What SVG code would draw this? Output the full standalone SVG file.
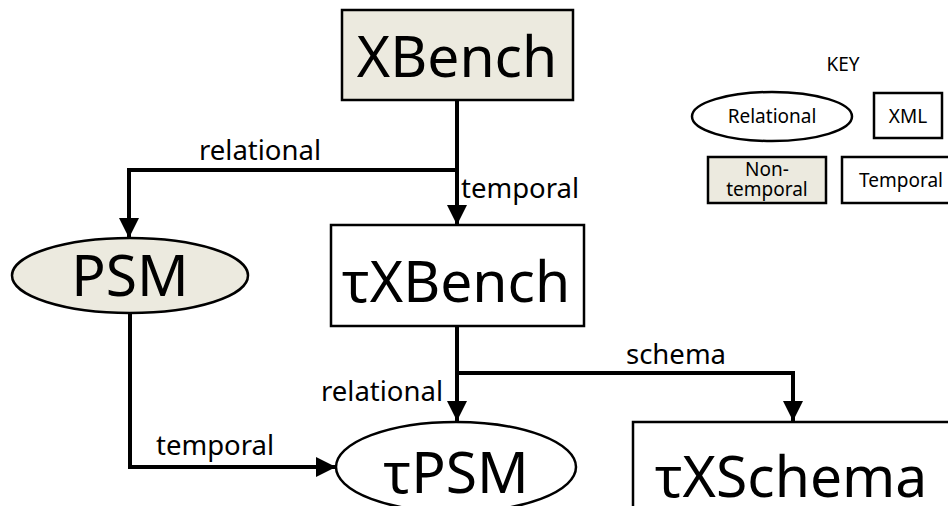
<svg xmlns="http://www.w3.org/2000/svg" width="948" height="506" viewBox="0 0 948 506">
<defs>
<style>
.node{stroke:#000;stroke-width:2.5}
.nt{fill:#ECEADF}
.t{fill:#fff}
.big{font-family:"Noto Sans","DejaVu Sans",sans-serif;font-size:57px;text-anchor:middle;fill:#000}
.lbl{font-family:"Noto Sans","DejaVu Sans",sans-serif;font-size:27.5px;fill:#000}
.key{font-family:"Noto Sans","DejaVu Sans",sans-serif;font-size:19px;text-anchor:middle;fill:#000}
.conn{fill:none;stroke:#000;stroke-width:4}
</style>
<marker id="arr" markerUnits="userSpaceOnUse" markerWidth="20" markerHeight="20" viewBox="0 0 20 20" refX="20" refY="10" orient="auto">
<path d="M0,0 L20,10 L0,20 Z" fill="#000"/>
</marker>
</defs>
<rect width="948" height="506" fill="#fff"/>
<g id="connectors">
<path class="conn" d="M457,100 V225" marker-end="url(#arr)"/>
<path class="conn" d="M457,170 H129 V238" marker-end="url(#arr)"/>
<path class="conn" d="M457,326 V421" marker-end="url(#arr)"/>
<path class="conn" d="M457,373 H793 V421" marker-end="url(#arr)"/>
<path class="conn" d="M130,313 V467 H336" marker-end="url(#arr)"/>
<text class="lbl" x="199" y="160">relational</text>
<text class="lbl" x="461" y="198">temporal</text>
<text class="lbl" x="626" y="364">schema</text>
<text class="lbl" x="321" y="401">relational</text>
<text class="lbl" x="156" y="455">temporal</text>
</g>
<g id="xbench">
<rect class="node nt" x="342" y="10" width="231" height="90"/>
<text class="big" x="457" y="77">XBench</text>
</g>
<g id="txbench">
<rect class="node t" x="331" y="225" width="253" height="101"/>
<text class="big" x="456" y="302">τXBench</text>
</g>
<g id="psm">
<ellipse class="node nt" cx="130" cy="275.5" rx="118" ry="37.5"/>
<text class="big" x="130" y="296">PSM</text>
</g>
<g id="tpsm">
<ellipse class="node t" cx="456" cy="467" rx="120" ry="45"/>
<text class="big" x="456" y="493">τPSM</text>
</g>
<g id="txschema">
<rect class="node t" x="633" y="422" width="330" height="110"/>
<text class="big" x="791" y="497">τXSchema</text>
</g>
<g id="key">
<text class="key" x="843" y="71">KEY</text>
<g id="key-relational">
<ellipse class="node t" cx="772" cy="116.5" rx="80" ry="24.5"/>
<text class="key" x="772" y="123">Relational</text>
</g>
<g id="key-xml">
<rect class="node t" x="874" y="93" width="68" height="45"/>
<text class="key" x="908" y="123">XML</text>
</g>
<g id="key-nontemporal">
<rect class="node nt" x="708" y="157" width="118" height="46"/>
<text class="key" x="767" y="176">Non-</text>
<text class="key" x="767" y="196">temporal</text>
</g>
<g id="key-temporal">
<rect class="node t" x="842" y="157" width="120" height="46"/>
<text class="key" x="901" y="187">Temporal</text>
</g>
</g>
</svg>
